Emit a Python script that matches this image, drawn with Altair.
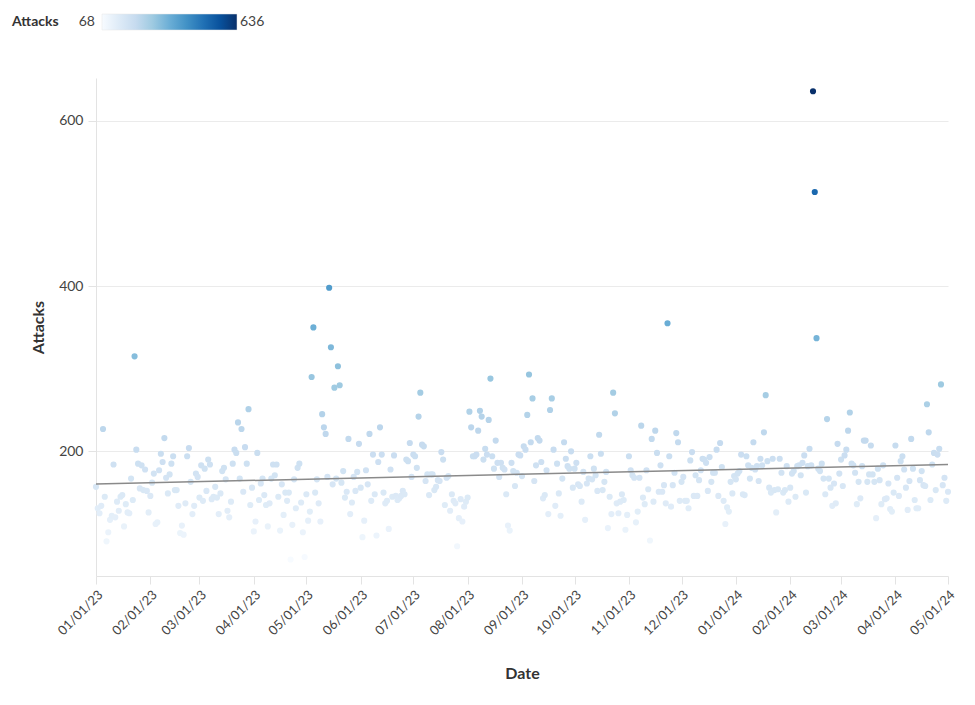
import altair as alt
import pandas as pd

START_DATE = "2023-01-01"
X_DOMAIN = ["2023-01-01", "2024-05-01"]
Y_TICKS = [200, 400, 600]
COLOR_MIN, COLOR_MAX = 68, 636

# Daily attack counts (one value per day from 2023-01-01)
ATTACKS = [
    157, 131, 125, 134, 227, 145, 91, 102, 117, 122,
    184, 120, 139, 128, 145, 147, 109, 136, 126, 125,
    167, 141, 315, 202, 185, 155, 183, 153, 178, 152,
    126, 146, 162, 173, 112, 114, 177, 197, 187, 216,
    168, 149, 172, 185, 194, 153, 153, 134, 101, 110,
    99, 137, 194, 204, 163, 124, 134, 173, 169, 144,
    183, 140, 179, 152, 190, 184, 142, 145, 157, 144,
    124, 149, 176, 180, 166, 128, 120, 139, 185, 202,
    198, 235, 167, 227, 151, 205, 185, 251, 135, 156,
    103, 115, 198, 141, 161, 167, 147, 135, 109, 137,
    167, 184, 171, 184, 145, 104, 160, 123, 150, 140,
    150, 69, 111, 166, 131, 180, 185, 138, 102, 72,
    148, 116, 127, 290, 350, 150, 166, 137, 115, 245,
    229, 221, 169, 398, 326, 160, 277, 167, 303, 280,
    162, 176, 144, 151, 215, 124, 138, 169, 152, 175,
    209, 156, 96, 116, 177, 160, 221, 140, 196, 148,
    98, 187, 229, 196, 150, 137, 140, 106, 178, 145,
    195, 146, 141, 143, 146, 152, 148, 190, 188, 210,
    169, 196, 194, 180, 242, 271, 208, 206, 164, 172,
    147, 172, 172, 153, 157, 165, 164, 199, 190, 135,
    168, 170, 128, 148, 140, 137, 85, 119, 142, 115,
    133, 139, 144, 248, 229, 194, 194, 196, 225, 249,
    242, 190, 203, 196, 238, 288, 194, 179, 213, 186,
    169, 186, 180, 178, 148, 110, 104, 186, 176, 158,
    174, 196, 195, 170, 206, 202, 244, 293, 211, 264,
    164, 183, 216, 213, 187, 143, 147, 177, 124, 250,
    264, 202, 134, 185, 149, 122, 167, 211, 191, 182,
    179, 200, 156, 179, 186, 160, 158, 139, 175, 117,
    161, 167, 194, 166, 179, 171, 152, 220, 197, 153,
    163, 175, 107, 145, 124, 271, 246, 137, 125, 139,
    148, 141, 105, 123, 194, 177, 171, 168, 114, 127,
    168, 231, 144, 136, 177, 154, 92, 215, 139, 225,
    198, 151, 183, 151, 159, 137, 355, 194, 133, 159,
    174, 222, 211, 140, 163, 169, 140, 140, 131, 189,
    199, 146, 171, 146, 165, 177, 191, 190, 186, 152,
    193, 163, 174, 174, 202, 146, 210, 181, 140, 112,
    132, 127, 163, 149, 170, 166, 173, 176, 196, 148,
    147, 194, 183, 167, 180, 211, 178, 182, 164, 191,
    183, 223, 268, 188, 156, 150, 191, 153, 126, 154,
    191, 174, 150, 153, 182, 139, 156, 173, 176, 145,
    182, 183, 171, 186, 195, 150, 182, 203, 183, 636,
    514, 337, 179, 176, 185, 167, 148, 239, 167, 156,
    134, 161, 137, 209, 173, 190, 158, 195, 202, 225,
    247, 185, 183, 174, 136, 163, 143, 182, 213, 213,
    163, 172, 207, 172, 163, 119, 179, 165, 136, 183,
    142, 143, 161, 130, 127, 150, 207, 168, 146, 188,
    194, 178, 156, 129, 164, 215, 179, 141, 131, 131,
    165, 176, 159, 158, 257, 223, 141, 184, 198, 153,
    196, 203, 281, 159, 168, 140, 151,
]

BLUES = ["#f7fbff", "#deebf7", "#c6dbef", "#9ecae1", "#6baed6",
         "#4292c6", "#2171b5", "#08519c", "#08306b"]
n = len(BLUES)
COLOR_DOMAIN = [COLOR_MIN + (COLOR_MAX - COLOR_MIN) * i / (n - 1) for i in range(n)]

dates = pd.date_range(START_DATE, periods=len(ATTACKS), freq="D").strftime("%Y-%m-%d")
df = pd.DataFrame({"Date": dates, "Attacks": ATTACKS})

FONT = "Lato"

x_enc = alt.X(
    "Date:T",
    scale=alt.Scale(type="utc", domain=X_DOMAIN, nice=False),
    axis=alt.Axis(
        labelExpr="utcFormat(datum.value, '%m/%d/%y')",
        tickCount=alt.TimeIntervalStep(interval="month", step=1),
        labelOverlap=False, labelBound=False,
        labelAngle=315, labelFontSize=13, labelColor="#444", labelFont=FONT,
        grid=False, domainColor="#e3e3e3", tickColor="#e3e3e3", tickSize=8,
        title="Date", titleFontSize=16, titleFont=FONT, titleFontWeight="bold",
        titleColor="#333", titlePadding=28, labelPadding=4,
    ),
)
y_enc = alt.Y(
    "Attacks:Q",
    scale=alt.Scale(domain=[49, 652], nice=False, zero=False),
    axis=alt.Axis(
        values=Y_TICKS, grid=True, gridColor="#ebebeb", domainColor="#e3e3e3",
        tickColor="#e3e3e3", tickSize=8, labelFontSize=14, labelColor="#444",
        labelFont=FONT, labelPadding=5,
        title="Attacks", titleFontSize=16, titleFont=FONT, titleFontWeight="bold",
        titleColor="#333", titlePadding=12,
    ),
)

points = alt.Chart(df).mark_circle(size=38, opacity=1).encode(
    x=x_enc,
    y=y_enc,
    color=alt.Color(
        "Attacks:Q",
        scale=alt.Scale(domain=COLOR_DOMAIN, range=BLUES),
        legend=None,
    ),
)

trend = alt.Chart(df).transform_regression("Date", "Attacks").mark_line(
    color="#8a8a8a", strokeWidth=1.5
).encode(x="Date:T", y="Attacks:Q")

# Legend (drawn by hand to match the side-by-side label layout)
legend_df = pd.DataFrame({"t": ["Attacks"]})
title_txt = alt.Chart(pd.DataFrame({"t": ["Attacks"]})).mark_text(
    font=FONT, fontSize=14, fontWeight="bold", color="#333", align="left", baseline="middle"
).encode(x=alt.value(-84), y=alt.value(-56), text="t:N")
lo_txt = alt.Chart(pd.DataFrame({"t": [str(COLOR_MIN)]})).mark_text(
    font=FONT, fontSize=14, color="#444", align="right", baseline="middle"
).encode(x=alt.value(-1), y=alt.value(-56), text="t:N")
hi_txt = alt.Chart(pd.DataFrame({"t": [str(COLOR_MAX)]})).mark_text(
    font=FONT, fontSize=14, color="#444", align="left", baseline="middle"
).encode(x=alt.value(144), y=alt.value(-56), text="t:N")
grad = alt.Chart(legend_df).mark_rect(
    fill=alt.Gradient(
        gradient="linear",
        stops=[alt.GradientStop(color=c, offset=i / (n - 1)) for i, c in enumerate(BLUES)],
        x1=0, x2=1, y1=0, y2=0,
    ),
    stroke="#e6e6e6", strokeWidth=0.5,
).encode(x=alt.value(6), x2=alt.value(141), y=alt.value(-64), y2=alt.value(-48))

chart = alt.layer(points, trend, grad, title_txt, lo_txt, hi_txt).properties(
    width=852, height=498,
    background="white",
    autosize=alt.AutoSizeParams(type="none"),
    padding={"left": 96, "top": 78, "right": 27, "bottom": 129},
).configure_view(stroke=None, strokeWidth=0)

chart.save("out.html", embed_options={"renderer": "svg", "actions": False})
